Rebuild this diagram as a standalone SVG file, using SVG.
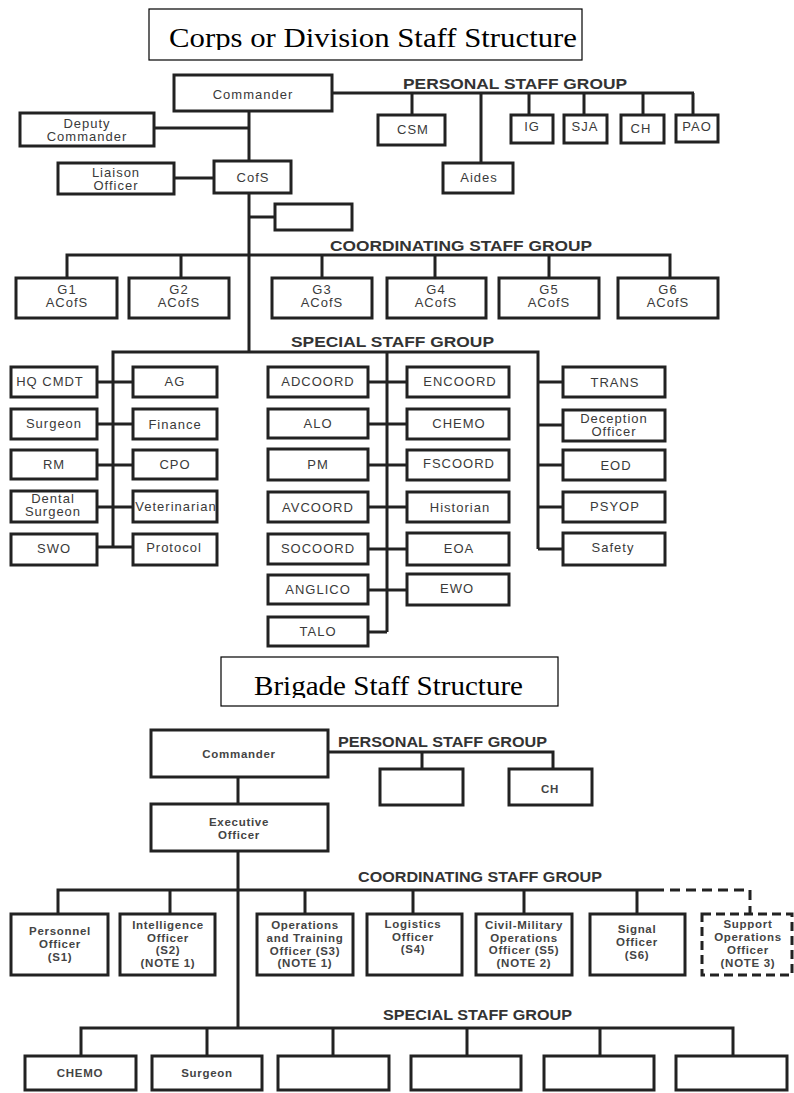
<svg xmlns="http://www.w3.org/2000/svg" width="794" height="1093" viewBox="0 0 794 1093">
<style>
.box{fill:#fff;stroke:#222;stroke-width:3}
.dbox{fill:#fff;stroke:#222;stroke-width:3;stroke-dasharray:9 5}
.ln{stroke:#222;stroke-width:3;fill:none}
.dln{stroke:#222;stroke-width:3;fill:none;stroke-dasharray:10 6}
.tbox{fill:#fff;stroke:#000;stroke-width:1.2}
.title{font-family:"Liberation Serif","Times New Roman",serif;font-size:27px;fill:#000}
.t{font-family:"Liberation Sans",Arial,sans-serif;font-size:13px;letter-spacing:1px;fill:#3a3a3a;text-anchor:middle}
.tb{font-family:"Liberation Sans",Arial,sans-serif;font-size:11.5px;font-weight:bold;letter-spacing:0.7px;fill:#444;text-anchor:middle}
.g{font-family:"Liberation Sans",Arial,sans-serif;font-size:15px;font-weight:bold;fill:#333}
</style>
<defs>
<clipPath id="c1"><rect x="149" y="9" width="433" height="41"/></clipPath>
<clipPath id="c2"><rect x="221" y="657" width="337" height="41"/></clipPath>
</defs>
<rect width="794" height="1093" fill="#fff"/>

<!-- Titles -->
<g id="title-corps">
<rect class="tbox" x="149" y="9" width="433" height="51"/>
<text class="title" x="169" y="47" textLength="408" lengthAdjust="spacingAndGlyphs" clip-path="url(#c1)">Corps or Division Staff Structure</text>
</g>
<g id="title-brigade">
<rect class="tbox" x="221" y="657" width="337" height="49"/>
<text class="title" x="254" y="695" textLength="269" lengthAdjust="spacingAndGlyphs" clip-path="url(#c2)">Brigade Staff Structure</text>
</g>

<!-- Group labels -->
<g id="labels">
<text class="g" x="403" y="89" textLength="224" lengthAdjust="spacingAndGlyphs">PERSONAL STAFF GROUP</text>
<text class="g" x="330" y="251" textLength="262" lengthAdjust="spacingAndGlyphs">COORDINATING STAFF GROUP</text>
<text class="g" x="291" y="347" textLength="203" lengthAdjust="spacingAndGlyphs">SPECIAL STAFF GROUP</text>
<text class="g" x="338" y="747" textLength="209" lengthAdjust="spacingAndGlyphs">PERSONAL STAFF GROUP</text>
<text class="g" x="358" y="882" textLength="244" lengthAdjust="spacingAndGlyphs">COORDINATING STAFF GROUP</text>
<text class="g" x="383" y="1020" textLength="189" lengthAdjust="spacingAndGlyphs">SPECIAL STAFF GROUP</text>
</g>

<!-- Connectors -->
<g id="connectors">
<!-- corps -->
<path class="ln" d="M249 111V352M154 128H249M174 178H214M249 217H275"/>
<path class="ln" d="M332 93H694M412 93V115M481 93V163M529 93V115M584 93V115M643 93V115M693 93V115"/>
<path class="ln" d="M67 278V255H670V278M181 255V278M322 255V278M435 255V278M549 255V278"/>
<path class="ln" d="M113 547V352H538V549M387 352V632"/>
<path class="ln" d="M97 382H133M97 424H133M97 465H133M97 507H133M97 547H133"/>
<path class="ln" d="M368 382H407M368 424H407M368 465H407M368 507H407M368 549H407M368 590H407M368 632H387"/>
<path class="ln" d="M538 382H563M538 425H563M538 465H563M538 507H563M538 549H563"/>
<!-- brigade -->
<path class="ln" d="M238 777V1028M328 752H553V769M422 752V769"/>
<path class="ln" d="M58 914V890H654M170 890V914M305 890V914M413 890V914M524 890V914M637 890V914"/>
<path class="dln" d="M654 890H750V914"/>
<path class="ln" d="M81 1056V1028H733V1056M207 1028V1056M333 1028V1056M467 1028V1056M600 1028V1056"/>
</g>

<!-- Corps nodes -->
<g id="c-commander"><rect class="box" x="174" y="75" width="158" height="36"/><text class="t" x="253" y="99">Commander</text></g>
<g id="c-deputy"><rect class="box" x="20" y="113" width="134" height="33"/><text class="t" x="87" y="128">Deputy</text><text class="t" x="87" y="141">Commander</text></g>
<g id="c-liaison"><rect class="box" x="58" y="163" width="116" height="31"/><text class="t" x="116" y="177">Liaison</text><text class="t" x="116" y="190">Officer</text></g>
<g id="c-cofs"><rect class="box" x="214" y="161" width="77" height="32"/><text class="t" x="253" y="182">CofS</text></g>
<g id="c-blank"><rect class="box" x="275" y="204" width="77" height="26"/></g>
<g id="c-csm"><rect class="box" x="378" y="115" width="67" height="30"/><text class="t" x="413" y="134">CSM</text></g>
<g id="c-aides"><rect class="box" x="443" y="163" width="70" height="30"/><text class="t" x="479" y="182">Aides</text></g>
<g id="c-ig"><rect class="box" x="511" y="115" width="42" height="28"/><text class="t" x="532" y="131">IG</text></g>
<g id="c-sja"><rect class="box" x="564" y="115" width="43" height="28"/><text class="t" x="585" y="131">SJA</text></g>
<g id="c-ch"><rect class="box" x="621" y="115" width="43" height="28"/><text class="t" x="641" y="133">CH</text></g>
<g id="c-pao"><rect class="box" x="676" y="115" width="42" height="27"/><text class="t" x="697" y="131">PAO</text></g>

<g id="c-g1"><rect class="box" x="16" y="278" width="101" height="40"/><text class="t" x="67" y="294">G1</text><text class="t" x="67" y="307">ACofS</text></g>
<g id="c-g2"><rect class="box" x="129" y="278" width="100" height="40"/><text class="t" x="179" y="294">G2</text><text class="t" x="179" y="307">ACofS</text></g>
<g id="c-g3"><rect class="box" x="272" y="278" width="100" height="40"/><text class="t" x="322" y="294">G3</text><text class="t" x="322" y="307">ACofS</text></g>
<g id="c-g4"><rect class="box" x="387" y="278" width="99" height="40"/><text class="t" x="436" y="294">G4</text><text class="t" x="436" y="307">ACofS</text></g>
<g id="c-g5"><rect class="box" x="499" y="278" width="100" height="40"/><text class="t" x="549" y="294">G5</text><text class="t" x="549" y="307">ACofS</text></g>
<g id="c-g6"><rect class="box" x="618" y="278" width="100" height="40"/><text class="t" x="668" y="294">G6</text><text class="t" x="668" y="307">ACofS</text></g>

<g id="c-hqcmdt"><rect class="box" x="11" y="367" width="86" height="30"/><text class="t" x="50" y="386">HQ CMDT</text></g>
<g id="c-surgeon"><rect class="box" x="11" y="409" width="86" height="30"/><text class="t" x="54" y="428">Surgeon</text></g>
<g id="c-rm"><rect class="box" x="11" y="450" width="86" height="29"/><text class="t" x="54" y="469">RM</text></g>
<g id="c-dental"><rect class="box" x="11" y="491" width="86" height="31"/><text class="t" x="53" y="503">Dental</text><text class="t" x="53" y="516">Surgeon</text></g>
<g id="c-swo"><rect class="box" x="11" y="534" width="86" height="31"/><text class="t" x="54" y="553">SWO</text></g>

<g id="c-ag"><rect class="box" x="133" y="367" width="84" height="30"/><text class="t" x="175" y="386">AG</text></g>
<g id="c-finance"><rect class="box" x="133" y="409" width="84" height="30"/><text class="t" x="175" y="429">Finance</text></g>
<g id="c-cpo"><rect class="box" x="133" y="450" width="84" height="29"/><text class="t" x="175" y="469">CPO</text></g>
<g id="c-vet"><rect class="box" x="133" y="491" width="84" height="31"/><text class="t" x="176" y="511">Veterinarian</text></g>
<g id="c-protocol"><rect class="box" x="133" y="534" width="84" height="31"/><text class="t" x="174" y="552">Protocol</text></g>

<g id="c-adcoord"><rect class="box" x="268" y="367" width="100" height="30"/><text class="t" x="318" y="386">ADCOORD</text></g>
<g id="c-alo"><rect class="box" x="268" y="409" width="100" height="29"/><text class="t" x="318" y="428">ALO</text></g>
<g id="c-pm"><rect class="box" x="268" y="449" width="100" height="31"/><text class="t" x="318" y="469">PM</text></g>
<g id="c-avcoord"><rect class="box" x="268" y="492" width="100" height="30"/><text class="t" x="318" y="512">AVCOORD</text></g>
<g id="c-socoord"><rect class="box" x="268" y="534" width="100" height="30"/><text class="t" x="318" y="553">SOCOORD</text></g>
<g id="c-anglico"><rect class="box" x="268" y="575" width="100" height="29"/><text class="t" x="318" y="594">ANGLICO</text></g>
<g id="c-talo"><rect class="box" x="268" y="617" width="100" height="29"/><text class="t" x="318" y="636">TALO</text></g>

<g id="c-encoord"><rect class="box" x="407" y="367" width="102" height="30"/><text class="t" x="460" y="386">ENCOORD</text></g>
<g id="c-chemo"><rect class="box" x="407" y="409" width="102" height="30"/><text class="t" x="459" y="428">CHEMO</text></g>
<g id="c-fscoord"><rect class="box" x="407" y="450" width="102" height="30"/><text class="t" x="459" y="468">FSCOORD</text></g>
<g id="c-historian"><rect class="box" x="407" y="492" width="102" height="30"/><text class="t" x="460" y="512">Historian</text></g>
<g id="c-eoa"><rect class="box" x="407" y="533" width="102" height="32"/><text class="t" x="459" y="553">EOA</text></g>
<g id="c-ewo"><rect class="box" x="407" y="574" width="102" height="31"/><text class="t" x="457" y="593">EWO</text></g>

<g id="c-trans"><rect class="box" x="563" y="367" width="102" height="30"/><text class="t" x="615" y="387">TRANS</text></g>
<g id="c-deception"><rect class="box" x="563" y="410" width="102" height="31"/><text class="t" x="614" y="423">Deception</text><text class="t" x="614" y="436">Officer</text></g>
<g id="c-eod"><rect class="box" x="563" y="450" width="102" height="30"/><text class="t" x="616" y="470">EOD</text></g>
<g id="c-psyop"><rect class="box" x="563" y="492" width="102" height="30"/><text class="t" x="615" y="511">PSYOP</text></g>
<g id="c-safety"><rect class="box" x="563" y="533" width="102" height="32"/><text class="t" x="613" y="552">Safety</text></g>

<!-- Brigade nodes -->
<g id="b-commander"><rect class="box" x="151" y="730" width="177" height="47"/><text class="tb" x="239" y="758">Commander</text></g>
<g id="b-xo"><rect class="box" x="151" y="804" width="177" height="47"/><text class="tb" x="239" y="826">Executive</text><text class="tb" x="239" y="839">Officer</text></g>
<g id="b-blank1"><rect class="box" x="380" y="769" width="83" height="36"/></g>
<g id="b-ch"><rect class="box" x="509" y="769" width="83" height="36"/><text class="tb" x="550" y="793">CH</text></g>

<g id="b-s1"><rect class="box" x="11" y="914" width="97" height="61"/><text class="tb" x="60" y="935">Personnel</text><text class="tb" x="60" y="948">Officer</text><text class="tb" x="60" y="961">(S1)</text></g>
<g id="b-s2"><rect class="box" x="120" y="914" width="95" height="61"/><text class="tb" x="168" y="929">Intelligence</text><text class="tb" x="168" y="942">Officer</text><text class="tb" x="168" y="954">(S2)</text><text class="tb" x="168" y="967">(NOTE 1)</text></g>
<g id="b-s3"><rect class="box" x="257" y="914" width="96" height="61"/><text class="tb" x="305" y="929">Operations</text><text class="tb" x="305" y="942">and Training</text><text class="tb" x="305" y="955">Officer (S3)</text><text class="tb" x="305" y="967">(NOTE 1)</text></g>
<g id="b-s4"><rect class="box" x="367" y="914" width="95" height="61"/><text class="tb" x="413" y="928">Logistics</text><text class="tb" x="413" y="941">Officer</text><text class="tb" x="413" y="953">(S4)</text></g>
<g id="b-s5"><rect class="box" x="476" y="914" width="96" height="61"/><text class="tb" x="524" y="929">Civil-Military</text><text class="tb" x="524" y="942">Operations</text><text class="tb" x="524" y="954">Officer (S5)</text><text class="tb" x="524" y="967">(NOTE 2)</text></g>
<g id="b-s6"><rect class="box" x="590" y="914" width="95" height="61"/><text class="tb" x="637" y="933">Signal</text><text class="tb" x="637" y="946">Officer</text><text class="tb" x="637" y="959">(S6)</text></g>
<g id="b-spo"><rect class="dbox" x="702" y="914" width="90" height="61"/><text class="tb" x="748" y="928">Support</text><text class="tb" x="748" y="941">Operations</text><text class="tb" x="748" y="954">Officer</text><text class="tb" x="748" y="967">(NOTE 3)</text></g>

<g id="b-chemo"><rect class="box" x="25" y="1056" width="111" height="34"/><text class="tb" x="80" y="1077">CHEMO</text></g>
<g id="b-surgeon"><rect class="box" x="152" y="1056" width="110" height="34"/><text class="tb" x="207" y="1077">Surgeon</text></g>
<g id="b-blank3"><rect class="box" x="278" y="1056" width="111" height="34"/></g>
<g id="b-blank4"><rect class="box" x="411" y="1056" width="110" height="34"/></g>
<g id="b-blank5"><rect class="box" x="544" y="1056" width="110" height="34"/></g>
<g id="b-blank6"><rect class="box" x="676" y="1056" width="111" height="34"/></g>
</svg>
